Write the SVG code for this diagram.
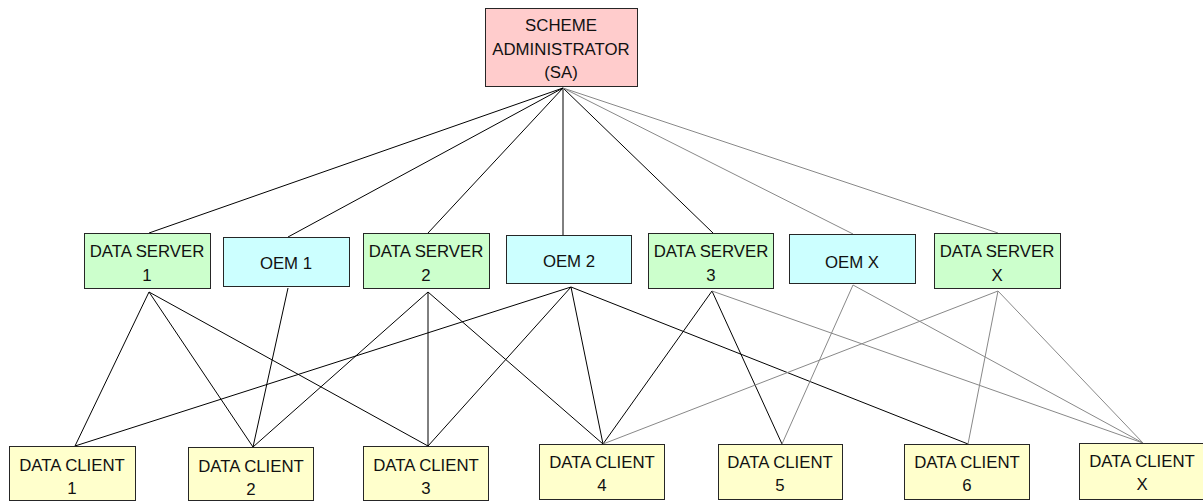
<svg xmlns="http://www.w3.org/2000/svg" width="1203" height="502" viewBox="0 0 1203 502">
<style>
.box{stroke:#262626;stroke-width:1}
.sa{fill:#FFCCCC}
.ds{fill:#CCFFCC}
.oem{fill:#CCFFFF}
.dc{fill:#FFFFCC}
text{font-family:"Liberation Sans",Arial,sans-serif;font-size:16.8px;fill:#111;text-anchor:middle}
.k{stroke:#000;stroke-width:1;fill:none}
.g{stroke:#888;stroke-width:1;fill:none}
</style>
<rect width="1203" height="502" fill="#fff"/>
<g id="connectors">
<line class="k" x1="563" y1="88" x2="149" y2="233"/>
<line class="k" x1="563" y1="88" x2="288" y2="237"/>
<line class="k" x1="563" y1="88" x2="428" y2="233"/>
<line class="k" x1="563" y1="88" x2="563" y2="235"/>
<line class="k" x1="563" y1="88" x2="713" y2="233"/>
<line class="g" x1="563" y1="88" x2="853" y2="234"/>
<line class="g" x1="563" y1="88" x2="998" y2="233"/>
<line class="k" x1="149" y1="292" x2="75" y2="446"/>
<line class="k" x1="149" y1="292" x2="253" y2="447"/>
<line class="k" x1="149" y1="292" x2="428" y2="446"/>
<line class="k" x1="288" y1="288" x2="253" y2="447"/>
<line class="k" x1="428" y1="292" x2="253" y2="447"/>
<line class="k" x1="428" y1="292" x2="428" y2="446"/>
<line class="k" x1="428" y1="292" x2="603" y2="444"/>
<line class="k" x1="571" y1="287" x2="75" y2="446"/>
<line class="k" x1="571" y1="287" x2="428" y2="446"/>
<line class="k" x1="571" y1="287" x2="603" y2="444"/>
<line class="k" x1="571" y1="287" x2="968" y2="444"/>
<line class="k" x1="712" y1="291" x2="603" y2="444"/>
<line class="k" x1="712" y1="291" x2="782" y2="444"/>
<line class="g" x1="712" y1="291" x2="1143" y2="443"/>
<line class="g" x1="853" y1="285" x2="782" y2="444"/>
<line class="g" x1="853" y1="285" x2="1143" y2="443"/>
<line class="g" x1="998" y1="291" x2="603" y2="444"/>
<line class="g" x1="998" y1="291" x2="968" y2="444"/>
<line class="g" x1="998" y1="291" x2="1143" y2="443"/>
</g>
<g id="sa"><rect class="box sa" x="485.5" y="8.5" width="152" height="78"/><text x="561" y="31">SCHEME</text><text x="561" y="55">ADMINISTRATOR</text><text x="561" y="78">(SA)</text></g>
<g id="ds1"><rect class="box ds" x="84.5" y="233.5" width="126" height="55"/><text x="147" y="257">DATA SERVER</text><text x="147" y="281">1</text></g>
<g id="oem1"><rect class="box oem" x="223.5" y="237.5" width="126" height="49"/><text x="286" y="269">OEM 1</text></g>
<g id="ds2"><rect class="box ds" x="363.5" y="233.5" width="126" height="55"/><text x="426" y="257">DATA SERVER</text><text x="426" y="281">2</text></g>
<g id="oem2"><rect class="box oem" x="506.5" y="235.5" width="125" height="48"/><text x="569" y="267">OEM 2</text></g>
<g id="ds3"><rect class="box ds" x="648.5" y="233.5" width="125" height="55"/><text x="711" y="257">DATA SERVER</text><text x="711" y="281">3</text></g>
<g id="oemx"><rect class="box oem" x="789.5" y="234.5" width="126" height="49"/><text x="852" y="268">OEM X</text></g>
<g id="dsx"><rect class="box ds" x="934.5" y="233.5" width="126" height="55"/><text x="997" y="257">DATA SERVER</text><text x="997" y="281">X</text></g>
<g id="dc1"><rect class="box dc" x="9.5" y="446.5" width="126" height="54"/><text x="72" y="471">DATA CLIENT</text><text x="72" y="494">1</text></g>
<g id="dc2"><rect class="box dc" x="188.5" y="447.5" width="125" height="53"/><text x="251" y="472">DATA CLIENT</text><text x="251" y="495">2</text></g>
<g id="dc3"><rect class="box dc" x="363.5" y="446.5" width="125" height="54"/><text x="426" y="471">DATA CLIENT</text><text x="426" y="494">3</text></g>
<g id="dc4"><rect class="box dc" x="539.5" y="444.5" width="125" height="55"/><text x="602" y="468">DATA CLIENT</text><text x="602" y="491">4</text></g>
<g id="dc5"><rect class="box dc" x="718.5" y="444.5" width="124" height="55"/><text x="780" y="468">DATA CLIENT</text><text x="780" y="491">5</text></g>
<g id="dc6"><rect class="box dc" x="904.5" y="444.5" width="125" height="55"/><text x="967" y="468">DATA CLIENT</text><text x="967" y="491">6</text></g>
<g id="dcx"><rect class="box dc" x="1079.5" y="443.5" width="126" height="56"/><text x="1142" y="467">DATA CLIENT</text><text x="1142" y="490">X</text></g>
</svg>
